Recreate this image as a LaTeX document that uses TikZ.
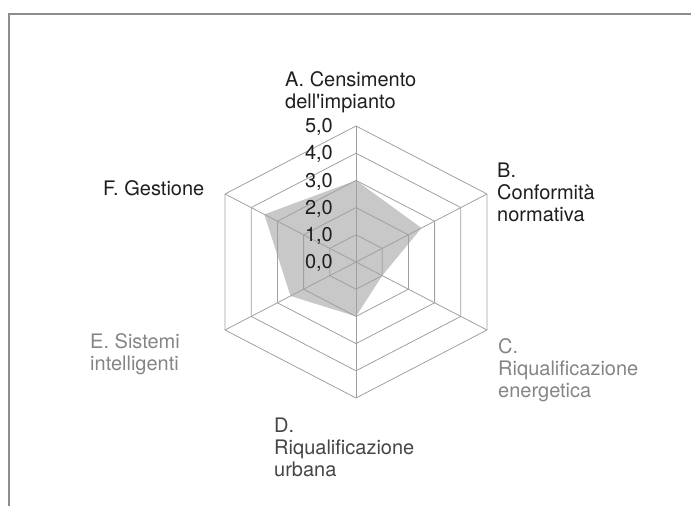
\documentclass[tikz,border=0pt]{standalone}
\usepackage{fontspec}
\setmainfont{TeX Gyre Heros}
\usetikzlibrary{calc}
\definecolor{gridgray}{HTML}{A0A0A0}
\definecolor{areagray}{HTML}{C8C8C8}
\definecolor{framegray}{HTML}{8C8C8C}
\definecolor{darktext}{HTML}{1E1E1E}
\definecolor{midtext}{HTML}{454545}
\definecolor{lighttext}{HTML}{858585}
\begin{document}
\begin{tikzpicture}[x=1pt,y=1pt,
    grid/.style={gridgray, line width=0.8pt},
    axislab/.style={anchor=north west, align=left, inner sep=0pt,
                    font=\fontsize{20}{22}\selectfont},
    ticklab/.style={anchor=east, inner sep=0pt, darktext,
                    font=\fontsize{20}{22}\selectfont}]
      \useasboundingbox (0,0) rectangle (691,506);

      % Frame
      \draw[framegray, line width=1.5pt] (9,0) -- (9,492) -- (691,492);

      % Centre and outer corners (level 5)
      \coordinate (O) at (356,244);
      \coordinate (vA) at (356,380);
      \coordinate (vB) at (487,312);
      \coordinate (vC) at (487,176);
      \coordinate (vD) at (356,108);
      \coordinate (vE) at (225,176);
      \coordinate (vF) at (225,312);

      % Values (scale 0 to 5)
      \def\valA{3.0} \def\valB{2.5} \def\valC{1.0}
      \def\valD{2.0} \def\valE{2.5} \def\valF{3.5}

      % Filled area
      \fill[areagray]
      ($(O)!\valA/5!(vA)$) --
      ($(O)!\valB/5!(vB)$) --
      ($(O)!\valC/5!(vC)$) --
      ($(O)!\valD/5!(vD)$) --
      ($(O)!\valE/5!(vE)$) --
      ($(O)!\valF/5!(vF)$) -- cycle;

      % Rings and spokes
      \foreach \r in {1,...,5}
        \draw[grid] ($(O)!\r/5!(vA)$) -- ($(O)!\r/5!(vB)$) -- ($(O)!\r/5!(vC)$)
          -- ($(O)!\r/5!(vD)$) -- ($(O)!\r/5!(vE)$) -- ($(O)!\r/5!(vF)$) -- cycle;
      \foreach \v in {vA,vB,vC,vD,vE,vF}
        \draw[grid] (O) -- (\v);

      % Scale
      \foreach \r in {0,...,5}
        \node[ticklab] (tick\r) at ($(O)!\r/5!(vA) + (-23,-1)$) {\r,0};

      % Labels
      \node[axislab, darktext] (labA) at (285,435) {A. Censimento\\dell\textquotesingle impianto};
      \node[axislab, darktext] (labB) at (497,343) {B.\\Conformità\\normativa};
      \node[axislab, lighttext] (labC) at (498,168) {C.\\Riqualificazione\\energetica};
      \node[axislab, midtext] (labD) at (274,88) {D.\\Riqualificazione\\urbana};
      \node[axislab, lighttext] (labE) at (90,173) {E. Sistemi\\intelligenti};
      \node[axislab, darktext] (labF) at (103,326) {F. Gestione};
\end{tikzpicture}
\end{document}
